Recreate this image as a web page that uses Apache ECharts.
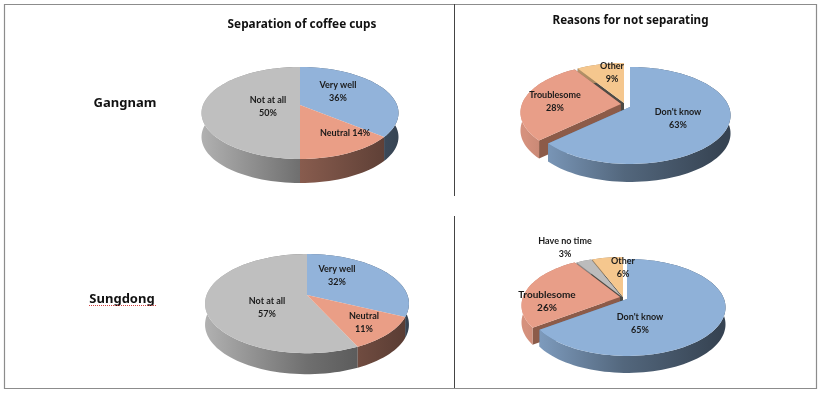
<!DOCTYPE html>
<html>
<head>
<meta charset="utf-8">
<style>
  html, body { margin: 0; padding: 0; background: #fff; }
  #main { width: 820px; height: 393px; }
</style>
<script src="https://cdn.jsdelivr.net/npm/echarts@6/dist/echarts.min.js"></script>
</head>
<body>
<div id="main"></div>
<script>
const sepNames = ["Very well", "Neutral", "Not at all"];
const reasonNames3 = ["Don't know", "Troublesome", "Other"];
const reasonNames4 = ["Don't know", "Troublesome", "Have no time", "Other"];

const gangnamSep = [36, 14, 50];
const gangnamReason = [63, 28, 9];
const sungdongSep = [32, 11, 57];
const sungdongReason = [65, 26, 3, 6];

const titles = ["Separation of coffee cups", "Reasons for not separating"];
const rows = ["Gangnam", "Sungdong"];

const font = '"Noto Sans", sans-serif';
const labelFont = 'Lato, sans-serif';

// top colour, colour of the cut faces
const sliceColors = {
  "Very well": ["#92b3da", "#5f7a99"],
  "Don't know": ["#8fb1d8", "#5f7a99"],
  "Neutral": ["#ea9e86", "#8c5b49"],
  "Troublesome": ["#e89e88", "#8c5b49"],
  "Not at all": ["#bfbfbf", "#777"],
  "Have no time": ["#bcbcbc", "#4e4b45"],
  "Other": ["#f5c78e", "#4e4b45"]
};

function scale(hex, f) {
  const c = echarts.color.parse(hex);
  return "rgb(" + [c[0] * f, c[1] * f, c[2] * f].map(Math.round).join(",") + ")";
}

// a perspective view of a flat disc, the apex is not the middle of the ellipse
function project(p, shift, u, v, dy) {
  const w = 1 - p.k * v;
  return [p.cx + shift[0] + p.a * u / w, p.cy + shift[1] + p.b * v / w + dy];
}

function arcPoints(p, shift, from, to, dy) {
  const pts = [];
  const n = Math.max(2, Math.ceil((to - from) * 1.5));
  for (let i = 0; i <= n; i++) {
    const t = (from + (to - from) * i / n) / 100 * Math.PI * 2;
    pts.push(project(p, shift, Math.sin(t), -Math.cos(t), dy));
  }
  return pts;
}

function makePie(names, values, p) {
  const starts = [];
  let sum = 0;
  values.forEach((v) => { starts.push(sum); sum += v; });

  return {
    type: "custom",
    coordinateSystem: "none",
    silent: true,
    data: names.map((n, i) => ({ name: n, value: [values[i], starts[i], i] })),
    renderItem: function (params, api) {
      const idx = api.value(2);
      const from = api.value(1);
      const to = from + api.value(0);
      const name = names[idx];
      const shift = p.shift[idx] || [0, 0];
      const colors = sliceColors[name];
      // slices nearer to the viewer are painted last
      const mid = (from + to) / 200 * Math.PI * 2;
      const z = 10 - Math.cos(mid) * 5;

      const top = arcPoints(p, shift, from, to, 0);
      const low = arcPoints(p, shift, from, to, p.depth);
      const apex = project(p, shift, 0, 0, 0);
      const apexLow = project(p, shift, 0, 0, p.depth);

      // lit from the left, dark to the right
      const side = new echarts.graphic.LinearGradient(p.cx - p.a, 0, p.cx + p.a, 0, [
        { offset: 0, color: scale(colors[0], 0.92) },
        { offset: 0.5, color: scale(colors[0], 0.58) },
        { offset: 1, color: scale(colors[0], 0.38) }
      ], true);

      const wall = (edge, edgeLow) => ({
        type: "polygon",
        z2: z,
        shape: { points: [apex, edge, edgeLow, apexLow] },
        style: { fill: colors[1] }
      });

      // cut faces only show on the pies that are pulled apart
      const walls = p.shift.length ? [
        wall(top[0], low[0]),
        wall(top[top.length - 1], low[low.length - 1])
      ] : [];

      return {
        type: "group",
        children: walls.concat([
          {
            type: "polygon",
            z2: z,
            shape: { points: top.concat(low.slice().reverse()) },
            style: { fill: side }
          },
          {
            type: "polygon",
            z2: z,
            shape: { points: [apex].concat(top) },
            style: { fill: colors[0] }
          },
          {
            type: "text",
            z2: 100,
            x: p.labels[idx][0],
            y: p.labels[idx][1],
            style: {
              text: name + (p.oneLine && p.oneLine[idx] ? " " : "\n") + api.value(0) + "%",
              font: "bold " + (p.labelSize && p.labelSize[idx] || 9) + "px " + labelFont,
              fill: "#1a1a1a",
              align: "center",
              verticalAlign: "middle",
              lineHeight: 13
            }
          }
        ])
      };
    }
  };
}

const pies = [
  makePie(sepNames, gangnamSep, {
    cx: 300, cy: 105, a: 97, b: 44.6, k: 0.174, depth: 24,
    shift: [],
    oneLine: [false, true, false],
    labels: [[338, 92], [345, 133], [268, 107]]
  }),
  makePie(reasonNames3, gangnamReason, {
    cx: 624, cy: 103, a: 99, b: 47, k: 0.174, depth: 18,
    shift: [[6, 4], [-3, 1], [0, 0]],
    labels: [[678, 119], [555, 102], [612, 73]]
  }),
  makePie(sepNames, sungdongSep, {
    cx: 307, cy: 295, a: 100.4, b: 48.1, k: 0.174, depth: 21,
    shift: [],
    labels: [[337, 276], [364, 323], [267, 308]]
  }),
  makePie(reasonNames4, sungdongReason, {
    cx: 623, cy: 297, a: 97, b: 47, k: 0.174, depth: 17,
    shift: [[4, 2], [-3, 0], [-1, 0], [0, 0]],
    labels: [[640, 324], [547, 301], [565, 248], [623, 268]],
    labelSize: [9, 10, 9, 9]
  })
];

function label(text, x, y, size, weight) {
  return {
    type: "text",
    x: x,
    y: y,
    style: {
      text: text,
      font: weight + " " + size + "px " + font,
      fill: "#111",
      align: "center",
      verticalAlign: "middle"
    }
  };
}

function line(x1, y1, x2, y2, color, width, dash) {
  return {
    type: "line",
    shape: { x1: x1, y1: y1, x2: x2, y2: y2 },
    style: { stroke: color, lineWidth: width, lineDash: dash || null }
  };
}

const chart = echarts.init(document.getElementById("main"));
chart.setOption({
  animation: false,
  backgroundColor: "#fff",
  graphic: [
    {
      type: "rect",
      shape: { x: 4.5, y: 4.5, width: 812, height: 384 },
      style: { fill: "none", stroke: "#8c8c8c", lineWidth: 1.2 }
    },
    line(454.5, 4, 454.5, 196, "#444", 1),
    line(454.5, 216, 454.5, 388, "#444", 1),
    label(titles[0], 302, 25, 11.8, "bold"),
    label(titles[1], 630.5, 20.7, 11.6, "bold"),
    label(rows[0], 125, 103, 13, "bold"),
    label(rows[1], 122, 299, 13, "bold"),
    line(89, 305.5, 157, 305.5, "#d04040", 1, [1, 1])
  ],
  series: pies
});
</script>
</body>
</html>
